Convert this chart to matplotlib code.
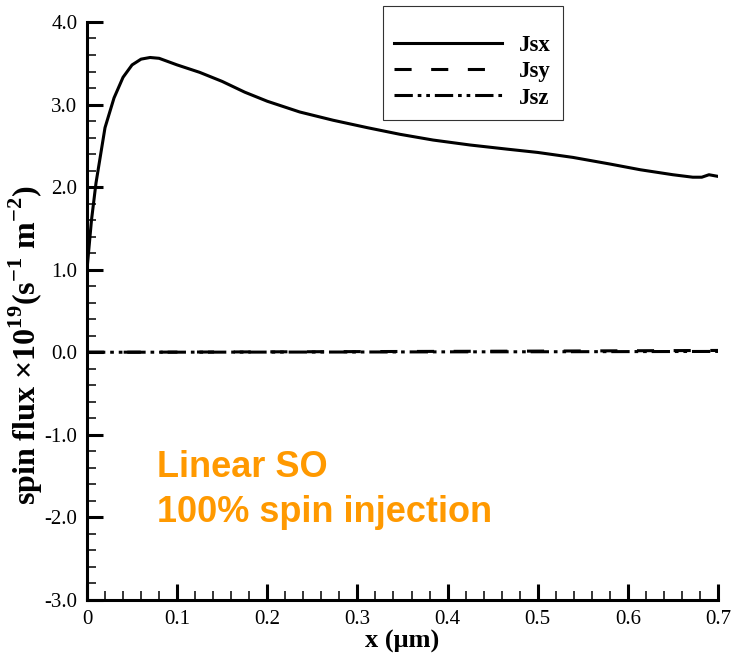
import numpy as np
import matplotlib
matplotlib.use("Agg")
import matplotlib.pyplot as plt
from matplotlib.ticker import MultipleLocator, FixedLocator, FixedFormatter

plt.rcParams['font.family'] = ['Liberation Serif', 'DejaVu Serif']
plt.rcParams['mathtext.fontset'] = 'custom'
plt.rcParams['mathtext.rm'] = 'Liberation Serif'
plt.rcParams['mathtext.bf'] = 'Liberation Serif:bold'
plt.rcParams['axes.unicode_minus'] = False

# Jsx
x_jsx = [0.0, 0.005, 0.01, 0.02, 0.03, 0.04, 0.05, 0.06, 0.07, 0.08, 0.09,
         0.1, 0.125, 0.15, 0.175, 0.2, 0.236, 0.273, 0.311, 0.347, 0.384,
         0.425, 0.466, 0.5, 0.539, 0.58, 0.614, 0.65, 0.672, 0.682, 0.69,
         0.695, 0.7]
jsx = [1.0, 1.6, 2.05, 2.72, 3.08, 3.33, 3.48, 3.55, 3.57, 3.56, 3.52,
       3.48, 3.39, 3.28, 3.15, 3.04, 2.91, 2.81, 2.72, 2.64, 2.57,
       2.51, 2.46, 2.42, 2.36, 2.28, 2.21, 2.15, 2.12, 2.12, 2.15,
       2.14, 2.13]

# Jsy, Jsz stay close to zero
x_small = [0.0, 0.1, 0.2, 0.3, 0.4, 0.5, 0.6, 0.7]
jsy = [0.0, 0.002, 0.005, 0.008, 0.011, 0.014, 0.018, 0.022]
jsz = [0.0, 0.001, 0.002, 0.003, 0.005, 0.006, 0.008, 0.010]

xticks = [0.0, 0.1, 0.2, 0.3, 0.4, 0.5, 0.6, 0.7]
xtick_labels = ['0', '0.1', '0.2', '0.3', '0.4', '0.5', '0.6', '0.7']
yticks = [-3, -2, -1, 0, 1, 2, 3, 4]
ytick_labels = ['-3.0', '-2.0', '-1.0', '0.0', '1.0', '2.0', '3.0', '4.0']

fig = plt.figure(figsize=(7.34, 6.56), dpi=100)
ax = fig.add_axes([0.1185, 0.0854, 0.8597, 0.8811])

lw = 2.2
ax.plot(x_jsx, jsx, color='black', lw=lw, label='Jsx')
ax.plot(x_small, jsy, color='black', lw=lw, dashes=(5.6, 6.4), label='Jsy')
ax.plot(x_small, jsz, color='black', lw=lw,
        dashes=(6.0, 1.6, 1.2, 1.6, 1.2, 1.6), label='Jsz')

ax.set_xlim(0, 0.7)
ax.set_ylim(-3, 4)

ax.xaxis.set_major_locator(FixedLocator(xticks))
ax.xaxis.set_major_formatter(FixedFormatter(xtick_labels))
ax.xaxis.set_minor_locator(MultipleLocator(0.02))
ax.yaxis.set_major_locator(FixedLocator(yticks))
ax.yaxis.set_major_formatter(FixedFormatter(ytick_labels))
ax.yaxis.set_minor_locator(MultipleLocator(0.2))

for s in ['top', 'right']:
    ax.spines[s].set_visible(False)
for s in ['left', 'bottom']:
    ax.spines[s].set_linewidth(2.2)

ax.tick_params(which='major', direction='in', length=11.5, width=2.2,
               labelsize=15, pad=7)
ax.tick_params(which='minor', direction='in', length=6.5, width=1.1)

ax.set_xlabel('x (μm)', fontsize=19, fontweight='bold', labelpad=1)
ax.set_ylabel('spin flux ×10$^{\\mathbf{19}}$(s$^{\\mathbf{-1}}$ m$^{\\mathbf{-2}}$)',
              fontsize=23, fontweight='bold')
ax.yaxis.set_label_coords(-0.066, 0.44)

leg = ax.legend(loc='upper left', bbox_to_anchor=(0.469, 1.028),
                borderaxespad=0, frameon=True, fancybox=False,
                handlelength=4.7, handletextpad=0.75, labelspacing=0.22,
                borderpad=0.5, title=' ', title_fontproperties={'size': 10},
                prop={'family': 'Liberation Serif', 'weight': 'bold', 'size': 16.5})
leg.get_frame().set_edgecolor('black')
leg.get_frame().set_linewidth(0.8)

orange = '#ff9900'
ax.text(0.078, -1.51, 'Linear SO', color=orange, fontsize=26,
        fontweight='bold', family='Liberation Sans', va='baseline')
ax.text(0.078, -2.06, '100% spin injection', color=orange, fontsize=26,
        fontweight='bold', family='Liberation Sans', va='baseline')

fig.savefig('out.png', dpi=100)
